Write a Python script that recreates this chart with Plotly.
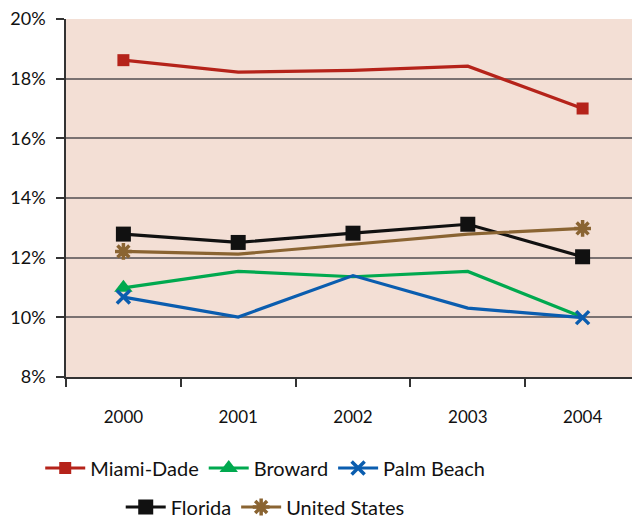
import plotly.graph_objects as go

years = ["2000", "2001", "2002", "2003", "2004"]
miami_dade = [18.62, 18.22, 18.28, 18.42, 17.0]
broward = [10.99, 11.54, 11.36, 11.54, 10.0]
palm_beach = [10.68, 10.01, 11.4, 10.31, 9.99]
florida = [12.79, 12.51, 12.82, 13.12, 12.03]
united_states = [12.21, 12.12, 12.45, 12.79, 12.98]
y_ticks = [8, 10, 12, 14, 16, 18, 20]

FONT = "Lato"
fig = go.Figure()

def add_series(name, vals, color, symbol, msize, marker_idx, legend, lw_marker=0):
    fig.add_trace(go.Scatter(x=years, y=vals, mode="lines", line=dict(color=color, width=3.2),
                             showlegend=False, hoverinfo="skip", legendgroup=name))
    mx, my = [], []
    for i, idx in enumerate(marker_idx):
        if i > 0:
            mx.append(years[(marker_idx[i - 1] + idx) // 2] if idx - marker_idx[i - 1] > 1 else years[idx])
            my.append(None)
        mx.append(years[idx])
        my.append(vals[idx])
    if len(marker_idx) == 1:
        mx.append(years[4]); my.append(None)
    mk = dict(color=color, size=msize, symbol=symbol)
    if lw_marker:
        mk["line"] = dict(color=color, width=lw_marker)
    fig.add_trace(go.Scatter(x=mx, y=my, mode="lines+markers", name=name, connectgaps=False,
                             line=dict(color=color, width=3.2), marker=mk, legend=legend,
                             legendgroup=name))

add_series("Miami-Dade", miami_dade, "#B5231A", "square", 12, [0, 4], "legend")
add_series("Broward", broward, "#00A94F", "triangle-up", 16, [0], "legend")
add_series("Palm Beach", palm_beach, "#0A5DAF", "x-thin", 13, [0, 4], "legend", lw_marker=3.5)
add_series("Florida", florida, "#111111", "square", 15, [0, 1, 2, 3, 4], "legend2")
add_series("United States", united_states, "#8A6432", "asterisk", 14, [0, 4], "legend2", lw_marker=3.5)

fig.update_layout(
    width=632, height=511,
    margin=dict(l=58, r=0, t=11, b=142, autoexpand=False),
    paper_bgcolor="white",
    plot_bgcolor="#F3DFD5",
    font=dict(family=FONT, color="#111111"),
    xaxis=dict(type="category", range=[-0.5, 4.5], tickson="boundaries", ticks="outside",
               ticklen=8, tickcolor="#333333", tickwidth=1.5, showgrid=False,
               showline=True, linecolor="#333333", linewidth=1.5, automargin=False,
               tickfont=dict(size=17, family=FONT), ticklabelstandoff=24, fixedrange=True),
    yaxis=dict(range=[8, 20], tickvals=y_ticks, ticktext=[f"{v}%" for v in y_ticks],
               ticks="outside", ticklen=8, tickcolor="#333333", tickwidth=1.5,
               showgrid=True, gridcolor="#7A7272", gridwidth=1.5, automargin=False,
               showline=True, linecolor="#333333", linewidth=1.5, zeroline=False,
               ticklabeloverflow="allow",
               tickfont=dict(size=18, family=FONT), ticklabelstandoff=7, fixedrange=True),
    legend=dict(orientation="h", xref="container", x=0.407, xanchor="center",
                yref="container", y=0.0998, yanchor="middle",
                font=dict(size=20, family=FONT), itemwidth=40, tracegroupgap=0,
                bgcolor="rgba(0,0,0,0)"),
    legend2=dict(orientation="h", xref="container", x=0.407, xanchor="center",
                 yref="container", y=0.0235, yanchor="middle",
                 font=dict(size=20, family=FONT), itemwidth=40, tracegroupgap=0,
                 bgcolor="rgba(0,0,0,0)"),
)

fig.write_html("out.html")
